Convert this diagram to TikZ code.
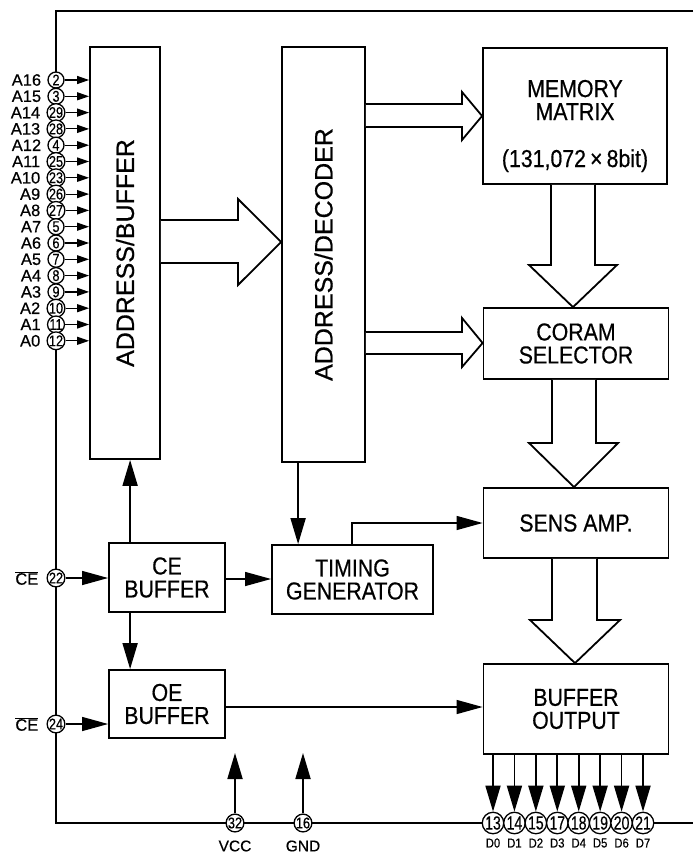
\documentclass[tikz,border=0pt]{standalone}
\usepackage{fontspec}
\setmainfont{Liberation Sans}
\newfontfamily\nar[FakeStretch=0.87,FakeBold=0.5]{Liberation Sans}
\newfontfamily\reg[FakeBold=0.5]{Liberation Sans}
\newfontfamily\pinf[FakeStretch=0.82,FakeBold=0.4]{Liberation Sans}
\newfontfamily\dpinf[FakeStretch=0.74,FakeBold=0.4]{Liberation Sans}
\usetikzlibrary{arrows.meta}
\begin{document}
\begin{tikzpicture}[x=1pt,y=-1pt,
  box/.style={draw, line width=1.8pt, inner sep=0pt},
  boxtxt/.style={align=center, inner sep=0pt, font=\nar\fontsize{24.5}{23}\selectfont},
  rottxt/.style={rotate=90, inner sep=0pt, font=\reg\fontsize{25}{25}\selectfont},
  pin/.style={draw, circle, fill=white, line width=1.3pt, minimum size=16pt, inner sep=0pt, font=\pinf\fontsize{15.5}{15}\selectfont},
  dpin/.style={pin, minimum size=21.5pt, font=\dpinf\fontsize{19}{19}\selectfont},
  plabel/.style={anchor=east, inner sep=0pt, font=\reg\fontsize{16.5}{16}\selectfont},
  frame/.style={line width=1.8pt},
  arr/.style={line width=1.8pt, -{Triangle[length=26pt,width=15pt]}},
  tarr/.style={line width=1.3pt, -{Triangle[length=26pt,width=14pt]}},
  parr/.style={line width=1.2pt, -{Triangle[length=12pt,width=8pt]}},
  blk/.style={line width=1.8pt, fill=white, line join=miter}
]
\useasboundingbox (0,0) rectangle (693,853);

% frame
\draw[frame] (693,11) -- (56,11) -- (56,823) -- (693,823);

% boxes
\node[box, minimum width=70pt, minimum height=412pt] (ab) at (125,253) {};
\node[rottxt] at (ab.center) {ADDRESS/BUFFER};
\node[box, minimum width=83pt, minimum height=415pt] (ad) at (323.5,254.5) {};
\node[rottxt] at (ad.center) {ADDRESS/DECODER};
\node[box, minimum width=184pt, minimum height=136pt] (mm) at (575,116) {};
\node[boxtxt] at (575,126) {MEMORY\\MATRIX\\[24pt](131,072\,×\,8bit)};
\node[box, minimum width=185pt, minimum height=71pt] (cs) at (576,343.5) {};
\node[boxtxt] at (cs.center) {CORAM\\SELECTOR};
\node[box, minimum width=185pt, minimum height=70pt] (sa) at (576,523) {};
\node[boxtxt] at (sa.center) {SENS AMP.};
\node[box, minimum width=185pt, minimum height=90pt] (bo) at (576,709) {};
\node[boxtxt] at (bo.center) {BUFFER\\OUTPUT};
\node[box, minimum width=116pt, minimum height=69pt] (ce) at (167,577.5) {};
\node[boxtxt] at (ce.center) {CE\\BUFFER};
\node[box, minimum width=161pt, minimum height=69pt] (tg) at (352.5,579.5) {};
\node[boxtxt] at (tg.center) {TIMING\\GENERATOR};
\node[box, minimum width=116pt, minimum height=68pt] (oe) at (167,704) {};
\node[boxtxt] at (oe.center) {OE\\BUFFER};

% block arrows
\draw[blk] (ab.east |- 0,220) -- (238,220) -- (238,199) -- (ad.west |- 0,242) -- (238,285) -- (238,263) -- (ab.east |- 0,263);
\draw[blk] (ad.east |- 0,104) -- (462,104) -- (462,92) -- (mm.west |- 0,116) -- (462,140) -- (462,127) -- (ad.east |- 0,127);
\draw[blk] (ad.east |- 0,332) -- (462,332) -- (462,318) -- (cs.west |- 0,343) -- (462,367) -- (462,354) -- (ad.east |- 0,354);
\draw[blk] (mm.south -| 551,0) -- (551,265) -- (529,265) -- (cs.north -| 573,0) -- (617,265) -- (595,265) -- (mm.south -| 595,0);
\draw[blk] (cs.south -| 552,0) -- (552,443) -- (529,443) -- (sa.north -| 574,0) -- (618,443) -- (596,443) -- (cs.south -| 596,0);
\draw[blk] (sa.south -| 552,0) -- (552,620) -- (530,620) -- (bo.north -| 575,0) -- (620,620) -- (597,620) -- (sa.south -| 597,0);

% connectors between blocks
\draw[arr] ([xshift=22pt]ce.north west) -- ([xshift=22pt]ce.north west |- ab.south);
\draw[arr] ([xshift=22pt]ce.south west) -- ([xshift=22pt]ce.south west |- oe.north);
\draw[arr] ([xshift=27pt]tg.north west |- ad.south) -- ([xshift=27pt]tg.north west);
\draw[tarr] ([xshift=81pt]tg.north west) |- (sa.west);
\draw[tarr] ([yshift=-1.5pt]ce.east) -- ([yshift=-1.5pt]ce.east -| tg.west);
\draw[tarr] ([yshift=-3pt]oe.east) -- ([yshift=-3pt]oe.east -| bo.west);

% address pins
\foreach \lab/\num [count=\i from 0] in {A16/2,A15/3,A14/29,A13/28,A12/4,A11/25,A10/23,A9/26,A8/27,A7/5,A6/6,A5/7,A4/8,A3/9,A2/10,A1/11,A0/12}{
  \node[pin] (pa\i) at (56,{80+16.3*\i}) {\num};
  \node[plabel] at ([xshift=-6pt]pa\i.west) {\lab};
  \draw[parr] (pa\i.east) -- (pa\i.east -| ab.west);
}

% CE / OE pins
\node[pin] (p22) at (56,578) {22};
\node[plabel] at ([xshift=-8pt]p22.west) {$\overline{\mbox{CE}}$};
\draw[tarr] (p22.east) -- (p22.east -| ce.west);
\node[pin] (p24) at (56,724) {24};
\node[plabel] at ([xshift=-8pt]p24.west) {$\overline{\mbox{CE}}$};
\draw[tarr] (p24.east) -- (p24.east -| oe.west);

% power pins
\node[pin] (p32) at (235,823) {32};
\node[pin] (p16) at (303,823) {16};
\coordinate (vcct) at (235,753);
\coordinate (gndt) at (303,753);
\draw[arr] (p32.north) -- (vcct);
\draw[arr] (p16.north) -- (gndt);
\node[inner sep=0pt, font=\reg\fontsize{15.5}{15}\selectfont] at (235,846) {VCC};
\node[inner sep=0pt, font=\reg\fontsize{15.5}{15}\selectfont] at (303,846) {GND};

% data pins
\foreach \num [count=\i from 0] in {13,14,15,17,18,19,20,21}{
  \node[dpin] (d\i) at ({493+21.43*\i},823) {\num};
  \draw[arr] (d\i |- bo.south) -- (d\i.north);
  \node[inner sep=0pt, font=\nar\fontsize{13}{13}\selectfont] at ({493+21.43*\i},843) {D\i};
}
\end{tikzpicture}
\end{document}
